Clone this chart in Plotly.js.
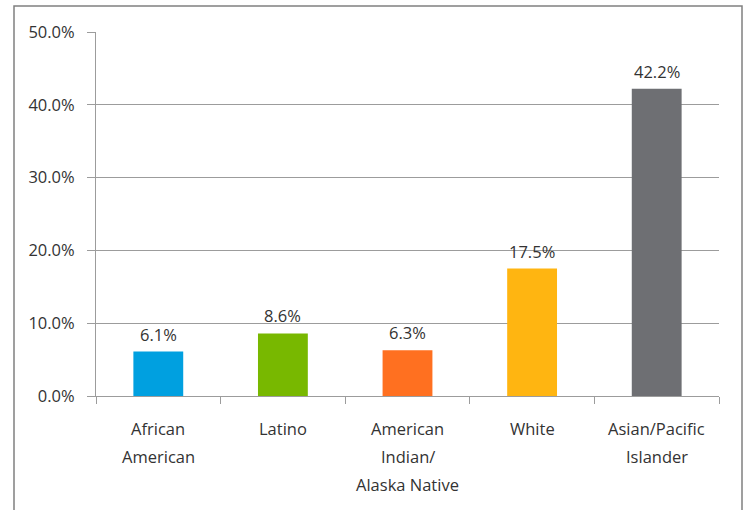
<!DOCTYPE html>
<html>
<head>
<meta charset="utf-8">
<script src="https://cdn.plot.ly/plotly-3.0.1.min.js"></script>
<style>html,body{margin:0;padding:0;background:#fff;}#chart{width:746px;height:510px;}</style>
</head>
<body>
<div id="chart"></div>
<script>
const categories = ["African American", "Latino", "American Indian/ Alaska Native", "White", "Asian/Pacific Islander"];
const labelLines = [["African", "American"], ["Latino"], ["American", "Indian/", "Alaska Native"], ["White"], ["Asian/Pacific", "Islander"]];
const values = [0.061, 0.086, 0.063, 0.175, 0.422];
const valueLabels = ["6.1%", "8.6%", "6.3%", "17.5%", "42.2%"];
const barColors = ["#00A0E0", "#78B800", "#FF7020", "#FFB511", "#6E6F73"];
const yTickVals = [0, 0.1, 0.2, 0.3, 0.4, 0.5];
const yTickText = ["0.0%", "10.0%", "20.0%", "30.0%", "40.0%", "50.0%"];

const fontFamily = "Open Sans, sans-serif";
const textColor = "#333333";
const gridColor = "#9c9c9c";
const fs = 16.5;

const annotations = [];
values.forEach((v, i) => {
  annotations.push({
    x: categories[i], y: v, xref: "x", yref: "y",
    text: valueLabels[i], showarrow: false,
    yanchor: "bottom", yshift: 4,
    font: {family: fontFamily, size: fs, color: textColor}
  });
});
labelLines.forEach((lines, i) => {
  lines.forEach((ln, j) => {
    annotations.push({
      x: categories[i], y: 0, xref: "x", yref: "paper",
      text: ln, showarrow: false,
      yanchor: "middle", yshift: -32 - j * 28,
      font: {family: fontFamily, size: fs, color: textColor}
    });
  });
});

const data = [{
  type: "bar",
  x: categories,
  y: values,
  marker: {color: barColors},
  width: 0.4,
  hoverinfo: "skip"
}];

const layout = {
  width: 746, height: 510,
  margin: {l: 96, r: 27, t: 32, b: 114},
  paper_bgcolor: "#ffffff",
  plot_bgcolor: "#ffffff",
  showlegend: false,
  font: {family: fontFamily, size: fs, color: textColor},
  xaxis: {
    type: "category",
    showticklabels: false,
    showgrid: false,
    showline: true, linecolor: gridColor, linewidth: 1,
    ticks: "outside", tickson: "boundaries", ticklen: 7, tickcolor: gridColor, tickwidth: 1,
    zeroline: false,
    fixedrange: true
  },
  yaxis: {
    range: [0, 0.5],
    tickvals: yTickVals,
    ticktext: yTickText,
    showgrid: true, gridcolor: gridColor, gridwidth: 1,
    showline: true, linecolor: gridColor, linewidth: 1,
    ticks: "outside", ticklen: 8, tickcolor: gridColor, tickwidth: 1,
    ticklabelstandoff: 9,
    zeroline: false,
    tickfont: {family: fontFamily, size: fs, color: textColor},
    fixedrange: true
  },
  annotations: annotations,
  shapes: [{
    type: "rect", xref: "paper", yref: "paper",
    x0: (14 - 96) / 623, x1: (742 - 96) / 623,
    y0: -(530 - 396) / 364, y1: 1 + (32 - 6) / 364,
    line: {color: "#808080", width: 1.5},
    fillcolor: "rgba(0,0,0,0)", layer: "below"
  }]
};

Plotly.newPlot("chart", data, layout, {displayModeBar: false, staticPlot: true});
</script>
</body>
</html>
